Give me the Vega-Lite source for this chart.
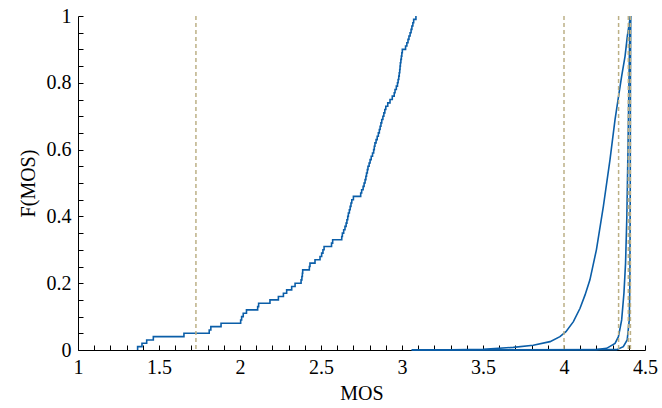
{
  "$schema": "https://vega.github.io/schema/vega-lite/v6.json",
  "width": 567,
  "height": 334,
  "autosize": "none",
  "padding": {"left": 78, "top": 16, "right": 17, "bottom": 58},
  "background": "white",
  "config": {
    "font": "Liberation Serif",
    "view": {"stroke": null},
    "axis": {
      "domainColor": "black",
      "tickColor": "black",
      "labelColor": "black",
      "titleColor": "black",
      "labelFont": "Liberation Serif",
      "titleFont": "Liberation Serif",
      "labelFontSize": 20,
      "titleFontSize": 20,
      "titleFontWeight": "normal",
      "grid": false,
      "tickSize": -5,
      "labelOverlap": false
    }
  },
  "datasets": {
    "ecdf": [
      {"mos": 1.368, "f": 0.0}, {"mos": 1.368, "f": 0.01}, {"mos": 1.395, "f": 0.02}, {"mos": 1.424, "f": 0.03}, {"mos": 1.465, "f": 0.04},
      {"mos": 1.654, "f": 0.05}, {"mos": 1.81, "f": 0.06}, {"mos": 1.82, "f": 0.07}, {"mos": 1.883, "f": 0.08},
      {"mos": 2.004, "f": 0.09}, {"mos": 2.01, "f": 0.10}, {"mos": 2.02, "f": 0.11}, {"mos": 2.04, "f": 0.12},
      {"mos": 2.109, "f": 0.13}, {"mos": 2.115, "f": 0.14}, {"mos": 2.185, "f": 0.15}, {"mos": 2.237, "f": 0.16},
      {"mos": 2.268, "f": 0.17}, {"mos": 2.288, "f": 0.18}, {"mos": 2.319, "f": 0.19}, {"mos": 2.34, "f": 0.20},
      {"mos": 2.377, "f": 0.21}, {"mos": 2.382, "f": 0.22}, {"mos": 2.385, "f": 0.23}, {"mos": 2.387, "f": 0.24},
      {"mos": 2.428, "f": 0.25}, {"mos": 2.432, "f": 0.26}, {"mos": 2.463, "f": 0.27}, {"mos": 2.494, "f": 0.28},
      {"mos": 2.504, "f": 0.29}, {"mos": 2.512, "f": 0.30}, {"mos": 2.519, "f": 0.31}, {"mos": 2.565, "f": 0.32},
      {"mos": 2.572, "f": 0.33}, {"mos": 2.628, "f": 0.34}, {"mos": 2.632, "f": 0.35}, {"mos": 2.640, "f": 0.36},
      {"mos": 2.648, "f": 0.37}, {"mos": 2.655, "f": 0.38}, {"mos": 2.66, "f": 0.39}, {"mos": 2.665, "f": 0.40},
      {"mos": 2.669, "f": 0.41}, {"mos": 2.675, "f": 0.42}, {"mos": 2.68, "f": 0.43}, {"mos": 2.685, "f": 0.44},
      {"mos": 2.69, "f": 0.45}, {"mos": 2.70, "f": 0.46}, {"mos": 2.745, "f": 0.47}, {"mos": 2.751, "f": 0.48},
      {"mos": 2.76, "f": 0.49}, {"mos": 2.766, "f": 0.50}, {"mos": 2.772, "f": 0.51}, {"mos": 2.777, "f": 0.52},
      {"mos": 2.781, "f": 0.53}, {"mos": 2.786, "f": 0.54}, {"mos": 2.79, "f": 0.55}, {"mos": 2.797, "f": 0.56},
      {"mos": 2.803, "f": 0.57}, {"mos": 2.81, "f": 0.58}, {"mos": 2.818, "f": 0.59}, {"mos": 2.825, "f": 0.60},
      {"mos": 2.829, "f": 0.61}, {"mos": 2.833, "f": 0.62}, {"mos": 2.84, "f": 0.63}, {"mos": 2.847, "f": 0.64},
      {"mos": 2.854, "f": 0.65}, {"mos": 2.86, "f": 0.66}, {"mos": 2.865, "f": 0.67}, {"mos": 2.87, "f": 0.68},
      {"mos": 2.875, "f": 0.69}, {"mos": 2.882, "f": 0.70}, {"mos": 2.888, "f": 0.71}, {"mos": 2.894, "f": 0.72},
      {"mos": 2.90, "f": 0.73}, {"mos": 2.912, "f": 0.74}, {"mos": 2.926, "f": 0.75}, {"mos": 2.94, "f": 0.76},
      {"mos": 2.952, "f": 0.77}, {"mos": 2.957, "f": 0.78}, {"mos": 2.965, "f": 0.79}, {"mos": 2.972, "f": 0.80},
      {"mos": 2.976, "f": 0.81}, {"mos": 2.98, "f": 0.82}, {"mos": 2.983, "f": 0.83}, {"mos": 2.986, "f": 0.84},
      {"mos": 2.988, "f": 0.85}, {"mos": 2.99, "f": 0.86}, {"mos": 2.993, "f": 0.87}, {"mos": 2.996, "f": 0.88},
      {"mos": 2.999, "f": 0.89}, {"mos": 3.002, "f": 0.90}, {"mos": 3.022, "f": 0.91}, {"mos": 3.03, "f": 0.92},
      {"mos": 3.037, "f": 0.93}, {"mos": 3.043, "f": 0.94}, {"mos": 3.05, "f": 0.95}, {"mos": 3.056, "f": 0.96},
      {"mos": 3.061, "f": 0.97}, {"mos": 3.067, "f": 0.98}, {"mos": 3.072, "f": 0.99}, {"mos": 3.086, "f": 1.0}
    ],
    "curves": [
      {"s": "a", "mos": 3.06, "f": 0}, {"s": "a", "mos": 3.3, "f": 0.0005}, {"s": "a", "mos": 3.5, "f": 0.002},
      {"s": "a", "mos": 3.687, "f": 0.008}, {"s": "a", "mos": 3.81, "f": 0.014}, {"s": "a", "mos": 3.914, "f": 0.025},
      {"s": "a", "mos": 3.975, "f": 0.04}, {"s": "a", "mos": 4.012, "f": 0.055}, {"s": "a", "mos": 4.058, "f": 0.085},
      {"s": "a", "mos": 4.099, "f": 0.125}, {"s": "a", "mos": 4.13, "f": 0.165}, {"s": "a", "mos": 4.16, "f": 0.21},
      {"s": "a", "mos": 4.2, "f": 0.3}, {"s": "a", "mos": 4.243, "f": 0.43}, {"s": "a", "mos": 4.284, "f": 0.57},
      {"s": "a", "mos": 4.315, "f": 0.69}, {"s": "a", "mos": 4.34, "f": 0.77}, {"s": "a", "mos": 4.356, "f": 0.82},
      {"s": "a", "mos": 4.377, "f": 0.88}, {"s": "a", "mos": 4.391, "f": 0.94}, {"s": "a", "mos": 4.402, "f": 0.975},
      {"s": "a", "mos": 4.41, "f": 1.0},
      {"s": "b", "mos": 3.06, "f": 0}, {"s": "b", "mos": 4.2, "f": 0.001}, {"s": "b", "mos": 4.263, "f": 0.005},
      {"s": "b", "mos": 4.315, "f": 0.02}, {"s": "b", "mos": 4.336, "f": 0.04}, {"s": "b", "mos": 4.356, "f": 0.09},
      {"s": "b", "mos": 4.37, "f": 0.17}, {"s": "b", "mos": 4.38, "f": 0.26}, {"s": "b", "mos": 4.388, "f": 0.4},
      {"s": "b", "mos": 4.395, "f": 0.6}, {"s": "b", "mos": 4.401, "f": 0.8}, {"s": "b", "mos": 4.406, "f": 0.95},
      {"s": "b", "mos": 4.41, "f": 1.0},
      {"s": "c", "mos": 3.06, "f": 0}, {"s": "c", "mos": 4.325, "f": 0.001}, {"s": "c", "mos": 4.366, "f": 0.01},
      {"s": "c", "mos": 4.39, "f": 0.03}, {"s": "c", "mos": 4.403, "f": 0.09}, {"s": "c", "mos": 4.407, "f": 0.21},
      {"s": "c", "mos": 4.409, "f": 0.5}, {"s": "c", "mos": 4.41, "f": 0.8}, {"s": "c", "mos": 4.412, "f": 1.0}
    ],
    "vlines": [
      {"mos": 1.728}, {"mos": 4.0}, {"mos": 4.337}, {"mos": 4.397}, {"mos": 4.41}
    ]
  },
  "encoding": {
    "x": {
      "field": "mos", "type": "quantitative",
      "scale": {"domain": [1, 4.5], "nice": false, "zero": false},
      "axis": {
        "title": "MOS",
        "values": [1, 1.1, 1.2, 1.3, 1.4, 1.5, 1.6, 1.7, 1.8, 1.9, 2, 2.1, 2.2, 2.3, 2.4, 2.5, 2.6, 2.7, 2.8, 2.9, 3, 3.1, 3.2, 3.3, 3.4, 3.5, 3.6, 3.7, 3.8, 3.9, 4, 4.1, 4.2, 4.3, 4.4, 4.5],
        "labelExpr": "abs(datum.value*2 - round(datum.value*2)) < 0.001 ? format(datum.value, '~g') : ''",
        "labelOverlap": false,
        "labelFont": "Liberation Serif",
        "labelFontSize": 20,
        "titleFont": "Liberation Serif",
        "titleFontSize": 20,
        "labelPadding": 12,
        "titlePadding": 6,
        "labelFlush": false
      }
    }
  },
  "layer": [
    {
      "data": {"name": "ecdf"},
      "mark": {"type": "line", "interpolate": "step-after", "color": "#0b5ea8", "strokeWidth": 1.6},
      "encoding": {
        "y": {
          "field": "f", "type": "quantitative",
          "scale": {"domain": [0, 1], "nice": false},
          "axis": {
            "title": "F(MOS)",
            "values": [0, 0.05, 0.1, 0.15, 0.2, 0.25, 0.3, 0.35, 0.4, 0.45, 0.5, 0.55, 0.6, 0.65, 0.7, 0.75, 0.8, 0.85, 0.9, 0.95, 1],
            "labelExpr": "abs(datum.value*5 - round(datum.value*5)) < 0.001 ? format(datum.value, '.1~f') : ''",
            "labelOverlap": false,
            "labelFont": "Liberation Serif",
            "labelFontSize": 20,
            "titleFont": "Liberation Serif",
            "titleFontSize": 20,
            "labelPadding": 12,
            "titlePadding": 8,
            "labelFlush": false
          }
        }
      }
    },
    {
      "data": {"name": "curves"},
      "mark": {"type": "line", "color": "#0b5ea8", "strokeWidth": 1.6},
      "encoding": {
        "y": {
          "field": "f", "type": "quantitative",
          "scale": {"domain": [0, 1], "nice": false},
          "axis": {
            "title": "F(MOS)",
            "values": [0, 0.05, 0.1, 0.15, 0.2, 0.25, 0.3, 0.35, 0.4, 0.45, 0.5, 0.55, 0.6, 0.65, 0.7, 0.75, 0.8, 0.85, 0.9, 0.95, 1],
            "labelExpr": "abs(datum.value*5 - round(datum.value*5)) < 0.001 ? format(datum.value, '.1~f') : ''",
            "labelOverlap": false,
            "labelFont": "Liberation Serif",
            "labelFontSize": 20,
            "titleFont": "Liberation Serif",
            "titleFontSize": 20,
            "labelPadding": 12,
            "titlePadding": 8,
            "labelFlush": false
          }
        },
        "detail": {"field": "s"}
      }
    },
    {
      "data": {"name": "vlines"},
      "mark": {"type": "rule", "color": "#bcb086", "strokeWidth": 1.5, "strokeDash": [4, 3]},
      "encoding": {}
    }
  ]
}
